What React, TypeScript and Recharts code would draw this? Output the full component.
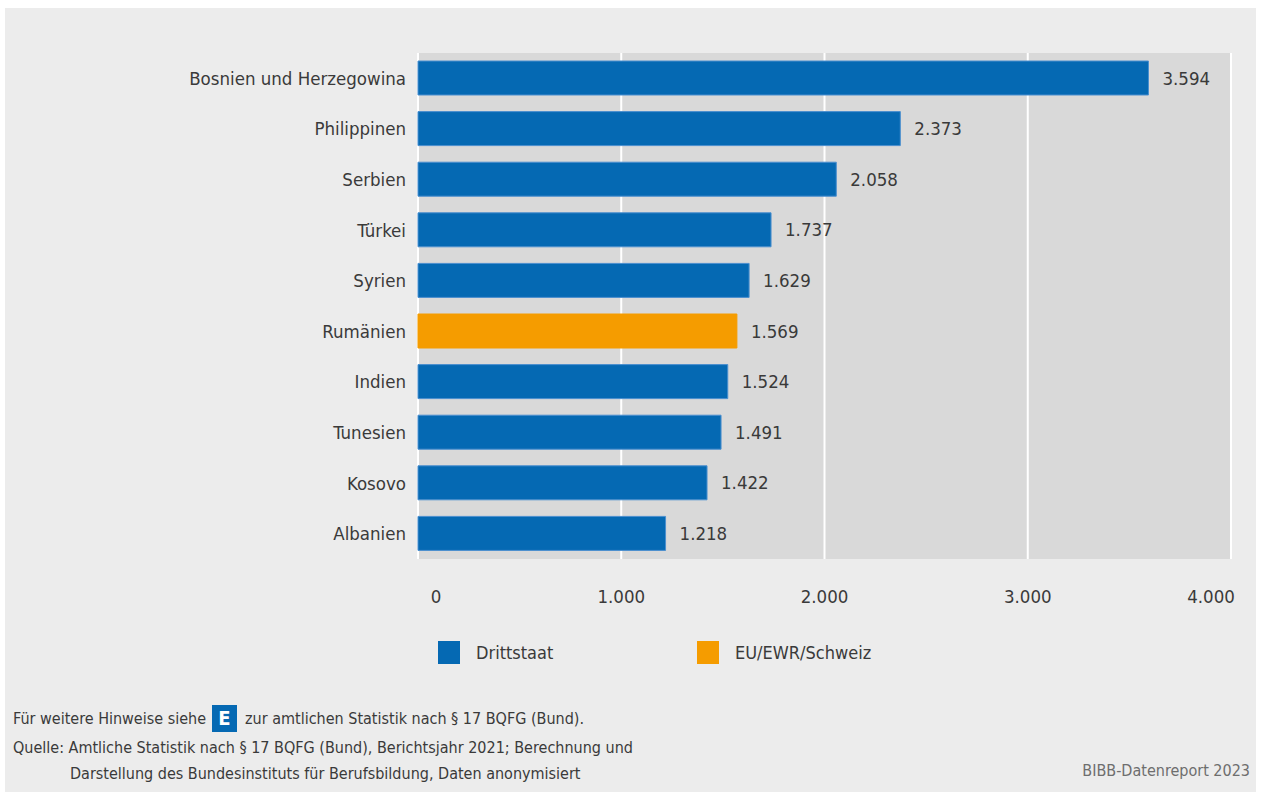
import * as React from 'react'
import { BarChart, Bar, XAxis, YAxis, CartesianGrid, Cell, LabelList } from 'recharts'

const countries = [
  'Bosnien und Herzegowina',
  'Philippinen',
  'Serbien',
  'Türkei',
  'Syrien',
  'Rumänien',
  'Indien',
  'Tunesien',
  'Kosovo',
  'Albanien',
]
const values = [3594, 2373, 2058, 1737, 1629, 1569, 1524, 1491, 1422, 1218]
const groups = [
  'Drittstaat',
  'Drittstaat',
  'Drittstaat',
  'Drittstaat',
  'Drittstaat',
  'EU/EWR/Schweiz',
  'Drittstaat',
  'Drittstaat',
  'Drittstaat',
  'Drittstaat',
]
const legendLabels = ['Drittstaat', 'EU/EWR/Schweiz']
const xTicks = [0, 1000, 2000, 3000, 4000]

const FONT = "'DejaVu Sans Condensed', 'Liberation Sans Narrow', sans-serif"
const TEXT = '#3a3a3a'
const BLUE = '#0569b3'
const ORANGE = '#f59c00'
const groupColor: Record<string, string> = { Drittstaat: BLUE, 'EU/EWR/Schweiz': ORANGE }
const groupStroke: Record<string, string> = { Drittstaat: '#4a8fcf', 'EU/EWR/Schweiz': ORANGE }

// German thousands separator
const fmt = (v: number) => String(v).replace(/\B(?=(\d{3})+(?!\d))/g, '.')

const data = countries.map((name, i) => ({ name, value: values[i], group: groups[i] }))

const XTick = (props: any) => {
  const { x, y, payload } = props
  // end labels are pulled inside the plot
  const shift = payload.value === 0 ? 18 : payload.value === 4000 ? -20 : 0
  return (
    <text x={x + shift} y={y + 36} textAnchor="middle" fill={TEXT} fontSize={18.5} fontFamily={FONT}>
      {fmt(payload.value)}
    </text>
  )
}

export default function App() {
  return (
    <div style={{ position: 'relative', width: 1261, height: 796, background: '#fff', fontFamily: FONT }}>
      <style>{'body{margin:0}'}</style>
      <div style={{ position: 'absolute', left: 5, top: 8, width: 1251, height: 784, background: '#ececec' }} />
      <div style={{ position: 'absolute', left: 0, top: 0 }}>
        <BarChart
          width={1261}
          height={796}
          data={data}
          layout="vertical"
          margin={{ top: 53, right: 30, bottom: 177, left: 0 }}
          barSize={34}
        >
          <CartesianGrid horizontal={false} stroke="#ffffff" strokeWidth={2} fill="#d9d9d9" />
          <XAxis
            type="number"
            domain={[0, 4000]}
            ticks={xTicks}
            axisLine={false}
            tickLine={false}
            height={60}
            tick={<XTick />}
          />
          <YAxis
            type="category"
            dataKey="name"
            width={418}
            axisLine={false}
            tickLine={false}
            tickMargin={6}
            tick={{ fill: TEXT, fontSize: 18.5, fontFamily: FONT }}
          />
          <Bar dataKey="value" isAnimationActive={false}>
            {data.map((d) => (
              <Cell key={d.name} fill={groupColor[d.group]} stroke={groupStroke[d.group]} strokeWidth={1} />
            ))}
            <LabelList
              dataKey="value"
              position="right"
              offset={14}
              formatter={(v: any) => fmt(Number(v))}
              style={{ fill: TEXT, fontSize: 18.5, fontFamily: FONT }}
            />
          </Bar>
        </BarChart>
      </div>
      <div style={{ position: 'absolute', left: 438, top: 641, display: 'flex', fontSize: 18, color: TEXT }}>
        {legendLabels.map((l, i) => (
          <div key={l} style={{ display: 'flex', alignItems: 'center', width: i === 0 ? 259 : 200 }}>
            <span style={{ width: 22, height: 23, background: groupColor[l], marginRight: 16, display: 'inline-block' }} />
            <span>{l}</span>
          </div>
        ))}
      </div>
      <div style={{ position: 'absolute', left: 13, top: 705, fontSize: 16, color: TEXT, display: 'flex', alignItems: 'center' }}>
        <span>Für weitere Hinweise siehe</span>
        <span
          style={{
            display: 'inline-block',
            width: 25,
            height: 27,
            background: BLUE,
            color: '#fff',
            fontWeight: 'bold',
            fontSize: 20,
            textAlign: 'center',
            lineHeight: '27px',
            margin: '0 8px 0 6px',
          }}
        >
          E
        </span>
        <span>zur amtlichen Statistik nach § 17 BQFG (Bund).</span>
      </div>
      <div style={{ position: 'absolute', left: 13, top: 735, fontSize: 16, color: TEXT, lineHeight: '26px' }}>
        <div>Quelle: Amtliche Statistik nach § 17 BQFG (Bund), Berichtsjahr 2021; Berechnung und</div>
        <div style={{ paddingLeft: 57 }}>Darstellung des Bundesinstituts für Berufsbildung, Daten anonymisiert</div>
      </div>
      <div style={{ position: 'absolute', right: 11, top: 761, fontSize: 16, color: '#6e6e6e' }}>BIBB-Datenreport 2023</div>
    </div>
  )
}
